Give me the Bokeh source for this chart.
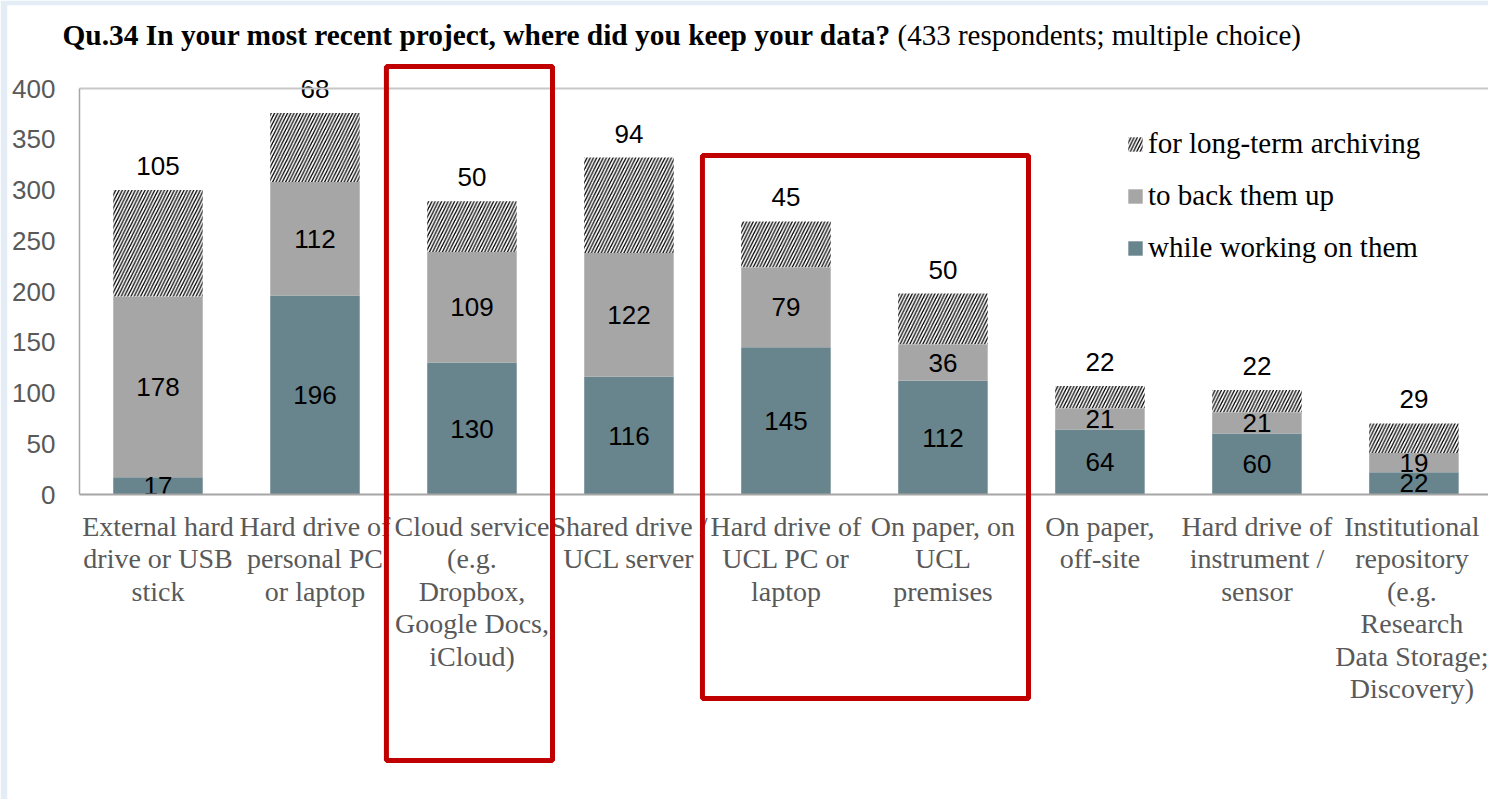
from bokeh.plotting import figure
from bokeh.models import (ColumnDataSource, Range1d, Legend, LegendItem, LinearAxis,
                          BoxAnnotation, Label, SingleIntervalTicker, FixedTicker)
from bokeh.core.properties import value
from bokeh.embed import file_html
from bokeh.resources import INLINE

categories = [
    "External hard drive or USB stick",
    "Hard drive of personal PC or laptop",
    "Cloud service (e.g. Dropbox, Google Docs, iCloud)",
    "Shared drive / UCL server",
    "Hard drive of UCL PC or laptop",
    "On paper, on UCL premises",
    "On paper, off-site",
    "Hard drive of instrument / sensor",
    "Institutional repository (e.g. Research Data Storage; Discovery)",
]
tick_labels = [
    "External hard\ndrive or USB\nstick",
    "Hard drive of\npersonal PC\nor laptop",
    "Cloud service\n(e.g.\nDropbox,\nGoogle Docs,\niCloud)",
    "Shared drive /\nUCL server",
    "Hard drive of\nUCL PC or\nlaptop",
    "On paper, on\nUCL\npremises",
    "On paper,\noff-site",
    "Hard drive of\ninstrument /\nsensor",
    "Institutional\nrepository\n(e.g.\nResearch\nData Storage;\nDiscovery)",
]
working = [17, 196, 130, 116, 145, 112, 64, 60, 22]
backup = [178, 112, 109, 122, 79, 36, 21, 21, 19]
archiving = [105, 68, 50, 94, 45, 50, 22, 22, 29]
series_names = ["while working on them", "to back them up", "for long-term archiving"]
y_tick_interval = 50
title_bold = "Qu.34 In your most recent project, where did you keep your data?"
title_normal = "(433 respondents; multiple choice)"
# red highlight boxes, in category-index / value coordinates: (left, right, top, bottom)
highlight_boxes = [(1.455, 2.513, 421.7, -262.1), (3.468, 5.545, 334.0, -201.0)]

TEAL = "#68848c"
GRAY = "#a6a6a6"
SERIF = "Liberation Serif"
SANS = "Liberation Sans"

pos = list(range(len(categories)))
b_top = [w + b for w, b in zip(working, backup)]
a_top = [t + a for t, a in zip(b_top, archiving)]

src = ColumnDataSource(dict(
    x=pos, cat=categories,
    w_top=working, w_mid=[w / 2 for w in working], w_lab=[str(v) for v in working],
    b_bot=working, b_top=b_top, b_mid=[(x + y) / 2 for x, y in zip(working, b_top)],
    b_lab=[str(v) for v in backup],
    a_top=a_top, a_lab=[str(v) for v in archiving],
))

W, H = 1488, 799
p = figure(width=W, height=H, output_backend="svg", toolbar_location=None,
           x_range=Range1d(-0.9586, 8.475), y_range=Range1d(-300.5, 481.8),
           x_axis_type=None, y_axis_type=None,
           min_border_left=7, min_border_right=0, min_border_top=5, min_border_bottom=0)
p.title.visible = False
p.outline_line_color = None
p.background_fill_color = "white"
p.border_fill_color = "#e4edf5"

bw = 0.57
r_w = p.vbar(x="x", bottom=0, top="w_top", width=bw, source=src,
             fill_color=TEAL, line_color=None)
r_b = p.vbar(x="x", bottom="b_bot", top="b_top", width=bw, source=src,
             fill_color=GRAY, line_color=None)
r_a = p.vbar(x="x", bottom="b_top", top="a_top", width=bw, source=src,
             fill_color="white", line_color=None, hatch_pattern="/",
             hatch_color="black", hatch_scale=6.5, hatch_weight=1.3)

common = dict(text_font=value(SANS), text_font_size="26px", text_color="black",
              text_align="center", text_baseline="middle")
p.text(x="x", y="w_mid", text="w_lab", source=src, **common)
p.text(x="x", y="b_mid", text="b_lab", source=src, **common)
p.text(x="x", y="a_top", text="a_lab", source=src, y_offset=-24, **common)

# y axis (value axis) fixed at the left edge of the first category
yax = LinearAxis(fixed_location=-0.5, bounds=(0, 400),
                 ticker=SingleIntervalTicker(interval=y_tick_interval, num_minor_ticks=0))
yax.major_tick_line_color = None
yax.minor_tick_line_color = None
yax.major_tick_in = 0
yax.major_tick_out = 0
yax.axis_line_color = "#a6a6a6"
yax.axis_line_width = 1.5
yax.major_label_text_font = SANS
yax.major_label_text_font_size = "26px"
yax.major_label_text_color = "#595959"
yax.major_label_standoff = 24
p.add_layout(yax, "left")

# category axis at value 0
xax = LinearAxis(fixed_location=0, bounds=(-0.5, 9),
                 ticker=FixedTicker(ticks=pos))
xax.major_tick_line_color = None
xax.minor_tick_line_color = None
xax.major_tick_in = 0
xax.major_tick_out = 0
xax.axis_line_color = "#a6a6a6"
xax.axis_line_width = 2
xax.major_label_text_font = SERIF
xax.major_label_text_font_size = "28px"
xax.major_label_text_color = "#595959"
xax.major_label_text_line_height = 1.05
xax.major_label_standoff = 16
xax.major_label_overrides = {i: t for i, t in zip(pos, tick_labels)}
p.add_layout(xax, "below")

# top frame line at the top of the value range
top_ax = LinearAxis(fixed_location=400, bounds=(-0.5, 9), ticker=FixedTicker(ticks=[]))
top_ax.major_tick_line_color = None
top_ax.minor_tick_line_color = None
top_ax.major_label_text_alpha = 0
top_ax.axis_line_color = "#c8c8c8"
top_ax.axis_line_width = 2
p.add_layout(top_ax, "above")

# legend
legend = Legend(items=[
    LegendItem(label=series_names[2], renderers=[r_a]),
    LegendItem(label=series_names[1], renderers=[r_b]),
    LegendItem(label=series_names[0], renderers=[r_w]),
], location=(1119, 535), orientation="vertical")
legend.label_text_font = SERIF
legend.label_text_font_size = "29px"
legend.label_text_color = "black"
legend.glyph_width = 18
legend.glyph_height = 18
legend.label_standoff = 4
legend.label_height = 30
legend.spacing = 19
legend.padding = 0
legend.margin = 0
legend.border_line_color = None
legend.background_fill_alpha = 0
p.add_layout(legend)

for left, right, top, bot in highlight_boxes:
    p.add_layout(BoxAnnotation(left=left, right=right, top=top, bottom=bot,
                               fill_alpha=0, line_color="#c00000", line_alpha=1,
                               line_width=5))

# title (bold + regular parts)
p.add_layout(Label(x=55, y=765, x_units="screen", y_units="screen",
                   text=title_bold, text_font=SERIF, text_font_style="bold",
                   text_font_size="29.4px", text_color="black", text_baseline="middle"))
p.add_layout(Label(x=890, y=765, x_units="screen", y_units="screen",
                   text=title_normal, text_font=SERIF, text_font_size="29px",
                   text_color="black", text_baseline="middle"))

open("out.html", "w").write(file_html(p, INLINE))
